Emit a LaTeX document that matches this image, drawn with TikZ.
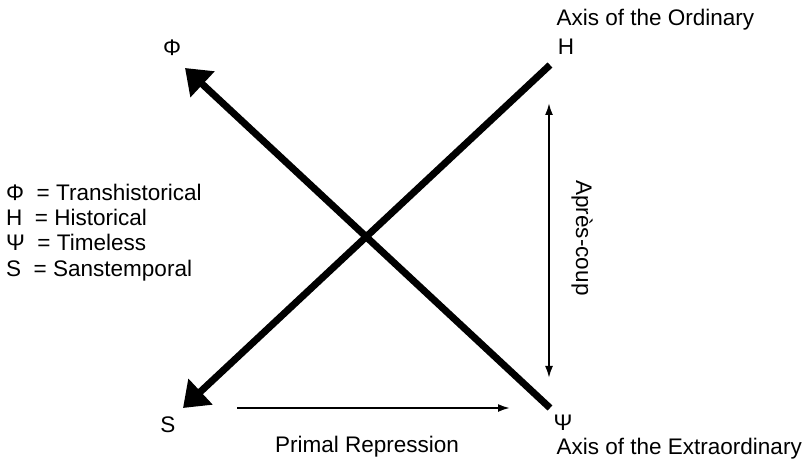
\documentclass[tikz,border=0pt]{standalone}
\usepackage{fontspec}
\setmainfont{Liberation Sans}
\usepackage{tikz}
\usetikzlibrary{arrows.meta}

\begin{document}
\begin{tikzpicture}[x=1bp, y=-1bp,
			>={Latex[length=12bp,width=8bp]},   %Voreinstellung für Pfeilspitzen
			achse/.style={line width=7bp, -{Triangle[length=24bp,width=34bp]}},
			duenn/.style={line width=2bp},
			font=\fontsize{22.6}{25.3}\selectfont]
			%Rahmen
			\useasboundingbox (0,0) rectangle (809,465);
			% Endpunkte der Achsen
			\coordinate (h0) at (550,65);
			\coordinate (s0) at (183,408);
			\coordinate (psi0) at (550,408);
			\coordinate (phi0) at (185,68);
			% Beschriftung der Ecken
			\node (Phi) at (172,48) {Φ};
			\node (H) at (566,47) {H};
			\node (S) at (168,425) {S};
			\node (Psi) at (563,423) {Ψ};
			\node[anchor=west] (ordinary) at (553,20) {Axis of the Ordinary};
			\node[anchor=west] (extra) at (553,449) {Axis of the Extraordinary};
			% Achsen zeichnen
			\draw[achse] (h0) -- (s0);
			\draw[achse] (psi0) -- (phi0);
			% duenne Pfeile
			\coordinate (pr0) at (237,408);
			\coordinate (pr1) at (510,408);
			\draw[->,duenn] (pr0) -- (pr1);
			\node (primal) at (367,447) {Primal Repression};
			\coordinate (ac0) at (549,103);
			\coordinate (ac1) at (549,378);
			\draw[<->,duenn] (ac0) -- (ac1);
			\node[rotate=-90] (apres) at (582,238) {Après-coup};
			%Legende
			\node[anchor=north west, align=left, inner sep=0pt] (legende) at (6,184)
				{Φ \ = Transhistorical\\H \ = Historical\\Ψ \ = Timeless\\S \ = Sanstemporal};
		\end{tikzpicture}
\end{document}
